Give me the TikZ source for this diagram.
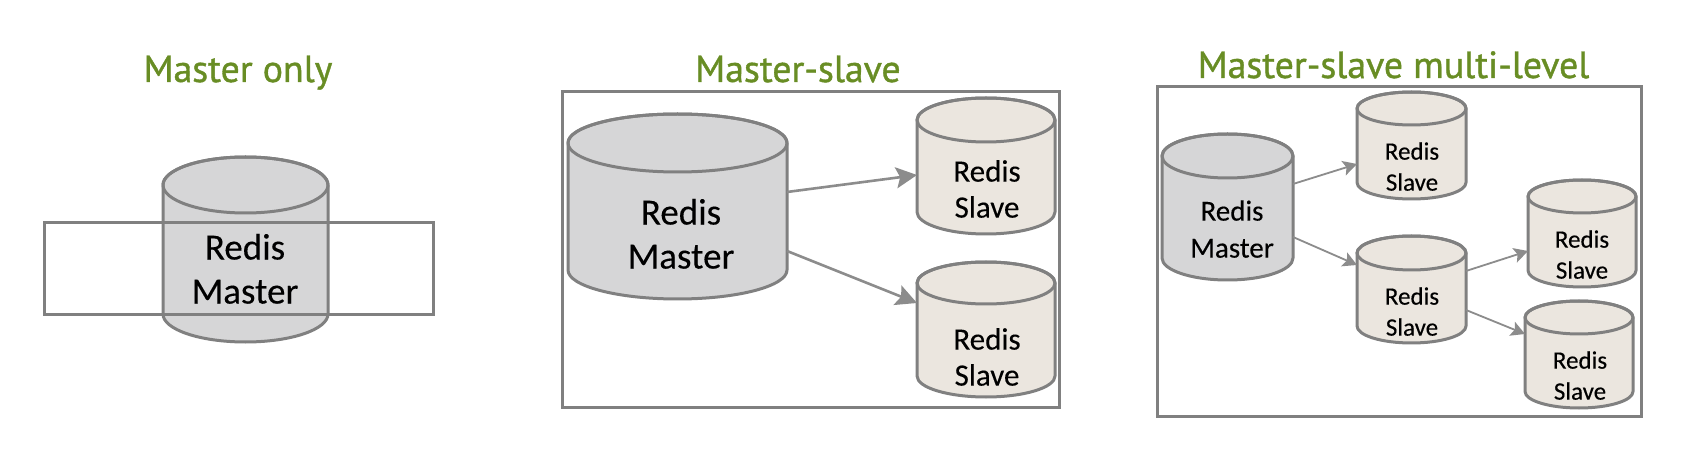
\documentclass[tikz,border=0pt]{standalone}
\usepackage{fontspec}
\setmainfont[FakeBold=0.25]{Carlito}
\newfontfamily\titlefont[FakeBold=1.0]{PT Sans}
\usetikzlibrary{arrows.meta}
\definecolor{lineGray}{RGB}{128,128,128}
\definecolor{arrowGray}{RGB}{140,140,140}
\definecolor{masterFill}{RGB}{214,214,215}
\definecolor{slaveFill}{RGB}{235,230,223}
\definecolor{titleGreen}{RGB}{104,141,36}
\tikzset{
  x=1pt,y=-1pt,
  cylhull/.style={inner sep=0pt,outer sep=0pt,rectangle},
  cyledge/.style={draw=lineGray,line width=3pt,line join=round},
  frame/.style={draw=lineGray,line width=3pt,fill=none,inner sep=0pt,outer sep=0pt,rectangle},
  heading/.style={text=titleGreen,font=\titlefont\fontsize{37.8}{37.8}\selectfont,anchor=base,inner sep=0pt},
  biglabel/.style={font=\fontsize{37}{44}\selectfont,align=center,anchor=south,inner sep=0pt},
  midlabel/.style={font=\fontsize{31}{36}\selectfont,align=center,anchor=south,inner sep=0pt},
  smalllabel/.style={font=\fontsize{25}{31}\selectfont,align=center,anchor=south,inner sep=0pt},
  bigconn/.style={draw=arrowGray,line width=2.6pt,-{Stealth[length=21pt,width=21pt,inset=4pt]}},
  smallconn/.style={draw=arrowGray,line width=1.8pt,-{Stealth[length=14pt,width=15pt,inset=3pt]}},
}
% name, x0, x1, ytop, ybot, ry, fill
\newcommand\cylshape[7]{%
  \pgfmathsetmacro\cylCx{(#2+#3)/2}%
  \pgfmathsetmacro\cylCy{(#4+#5)/2}%
  \pgfmathsetmacro\cylRx{(#3-#2)/2}%
  \pgfmathsetmacro\cylW{#3-#2}%
  \pgfmathsetmacro\cylH{#5-#4}%
  \pgfmathsetmacro\cylYa{#4+#6}%
  \pgfmathsetmacro\cylYb{#5-#6}%
  \node[cylhull,minimum width=\cylW pt,minimum height=\cylH pt] (#1) at (\cylCx,\cylCy) {};
  \draw[cyledge,fill=#7] (#2,\cylYa) -- (#2,\cylYb) arc[start angle=180,end angle=360,x radius=\cylRx pt,y radius=#6 pt] -- (#3,\cylYa) arc[start angle=0,end angle=180,x radius=\cylRx pt,y radius=#6 pt] -- cycle;
  \draw[cyledge] (\cylCx,\cylYa) ellipse[x radius=\cylRx pt,y radius=#6 pt];
}
\begin{document}
\begin{tikzpicture}
\useasboundingbox (0,0) rectangle (1692,462);
\fill[white] (0,0) rectangle (1692,462);

% Panel 1
\node[heading] (t1) at (238,82) {Master only};
\cylshape{m1}{163}{328}{157}{342}{28}{masterFill}
\node[frame,minimum width=389pt,minimum height=92pt] (f1) at (238.5,269) {};
\node[biglabel] (l1) at (245,304) {Redis\\Master};

% Panel 2
\node[heading] (t2) at (798,82) {Master-slave};
\node[frame,minimum width=497pt,minimum height=315pt] (f2) at (810.5,249.5) {};
\cylshape{m2}{568}{787}{114}{299}{29}{masterFill}
\cylshape{s1}{917}{1055}{98}{234}{22}{slaveFill}
\cylshape{s2}{917}{1055}{262}{397}{21}{slaveFill}
\node[biglabel] (l2) at (681,269) {Redis\\Master};
\node[midlabel] (l3) at (987,218) {Redis\\Slave};
\node[midlabel] (l4) at (987,386) {Redis\\Slave};
\draw[bigconn] ([yshift=14.5pt]m2.east) -- ([yshift=-9pt]s1.west);
\draw[bigconn] ([yshift=-44.5pt]m2.east) -- ([yshift=26.5pt]s2.west);

% Panel 3
\node[heading] (t3) at (1393.5,78) {Master-slave multi-level};
\node[frame,minimum width=484pt,minimum height=329pt] (f3) at (1399,251.5) {};
\cylshape{m3}{1162}{1293}{134}{280}{22}{masterFill}
\cylshape{a}{1357}{1466}{92}{199}{16.5}{slaveFill}
\cylshape{b}{1357}{1466}{236}{343}{17}{slaveFill}
\cylshape{c}{1528}{1636}{180}{287}{16.5}{slaveFill}
\cylshape{d}{1525}{1633}{301}{408}{16.5}{slaveFill}
\node[font=\fontsize{29}{37}\selectfont,align=center,anchor=south,inner sep=0pt] (l5) at (1232,258) {Redis\\Master};
\node[smalllabel] (l6) at (1412,191) {Redis\\Slave};
\node[smalllabel] (l7) at (1412,336) {Redis\\Slave};
\node[smalllabel] (l8) at (1582,279) {Redis\\Slave};
\node[smalllabel] (l9) at (1580,400) {Redis\\Slave};
\draw[smallconn] ([yshift=23pt]m3.east) -- ([yshift=-18.5pt]a.west);
\draw[smallconn] ([yshift=-30pt]m3.east) -- ([yshift=24.5pt]b.west);
\draw[smallconn] ([yshift=18.5pt]b.east) -- ([yshift=-17.5pt]c.west);
\draw[smallconn] ([yshift=-20.5pt]b.east) -- ([yshift=20.5pt]d.west);
\end{tikzpicture}
\end{document}
